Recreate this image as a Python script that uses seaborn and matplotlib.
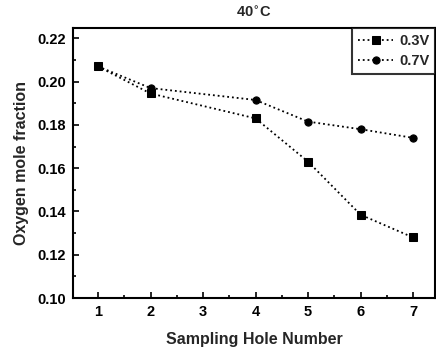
import matplotlib
matplotlib.use("Agg")
import matplotlib.pyplot as plt
import seaborn as sns
import pandas as pd
from matplotlib.ticker import MultipleLocator

holes = [1, 2, 4, 5, 6, 7]
v03 = [0.207, 0.1945, 0.183, 0.163, 0.1385, 0.128]
v07 = [0.207, 0.197, 0.1915, 0.1815, 0.178, 0.174]
series = ["0.3V", "0.7V"]
xticks = [1, 2, 3, 4, 5, 6, 7]
yticks = [0.10, 0.12, 0.14, 0.16, 0.18, 0.20, 0.22]

df = pd.DataFrame({
    "hole": holes * 2,
    "frac": v03 + v07,
    "series": [series[0]] * len(holes) + [series[1]] * len(holes),
})

sns.set_theme(style="ticks")
plt.rcParams['font.family'] = ['Liberation Sans', 'DejaVu Sans']
plt.rcParams['font.weight'] = 'bold'

fig = plt.figure(figsize=(4.36, 3.47), dpi=100)
ax = fig.add_axes([0.167, 0.141, 0.831, 0.778])

sns.lineplot(data=df, x="hole", y="frac", hue="series", style="series",
             palette=["black", "black"], markers=["s", "o"], dashes=False,
             linewidth=1.3, markersize=5.2, markeredgecolor="black",
             ax=ax)
for line in ax.lines:
    line.set_linestyle(":")

ax.set_xlim(0.52, 7.42)
ax.set_ylim(0.10, 0.2247)
ax.set_xticks(xticks)
ax.set_yticks(yticks)
ax.set_yticklabels([f"{t:.2f}" for t in yticks])
ax.xaxis.set_minor_locator(MultipleLocator(0.5))
ax.yaxis.set_minor_locator(MultipleLocator(0.01))
ax.tick_params(which="both", direction="in", top=False, right=False,
               labelsize=10.5, width=1.2, colors="black")
ax.tick_params(which="major", length=4, pad=5)
ax.tick_params(which="minor", length=2)
for lbl in ax.get_xticklabels() + ax.get_yticklabels():
    lbl.set_fontweight("bold")
for s in ax.spines.values():
    s.set_linewidth(1.5)
    s.set_color("black")

ax.set_xlabel("Sampling Hole Number", fontsize=11.5, fontweight="bold", labelpad=9)
ax.set_ylabel("Oxygen mole fraction", fontsize=11.5, fontweight="bold", labelpad=6)
ax.set_title("40$^{\\circ}$C", fontsize=10.5, fontweight="bold", pad=8)

leg = ax.legend(loc="upper right", frameon=True, fancybox=False, fontsize=10.5,
                handlelength=2.4, borderaxespad=0.0, borderpad=0.4,
                labelspacing=0.4, handletextpad=0.4)
leg.get_frame().set_edgecolor("black")
leg.get_frame().set_linewidth(1.5)
for t in leg.get_texts():
    t.set_fontweight("bold")
for h in leg.get_lines():
    h.set_linestyle(":")

fig.savefig("out.png", dpi=100)
